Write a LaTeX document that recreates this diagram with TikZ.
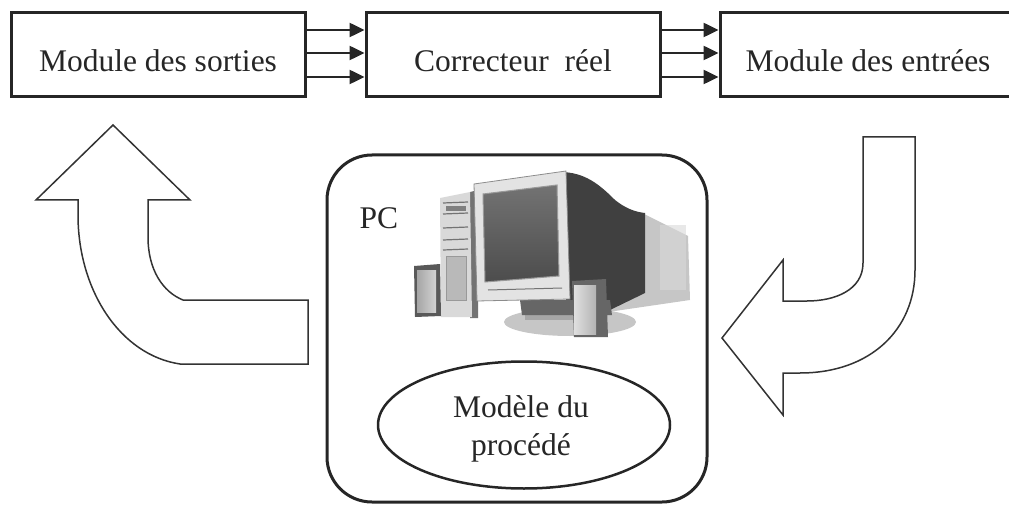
\documentclass[tikz,border=0pt]{standalone}
\usepackage{fontspec}
\setmainfont{Liberation Serif}
\usetikzlibrary{arrows.meta,shapes.geometric}

\begin{document}
\begin{tikzpicture}[x=1pt,y=-1pt,
  every node/.style={font=\fontsize{31.5}{38}\selectfont, text=black!85},
  blockbox/.style={draw=black!85, line width=3pt, rectangle, inner sep=0pt,
                   minimum width=294pt, minimum height=84pt},
  link/.style={draw=black!85, line width=2.5pt,
               -{Triangle[length=15pt,width=14pt]}},
  bigarrow/.style={draw=black!80, line width=1.5pt, line join=miter, fill=white},
  pcbox/.style={draw=black!85, line width=3pt, rounded corners=45pt,
                minimum width=380pt, minimum height=347pt, inner sep=0pt},
  modelshape/.style={draw=black!85, line width=2.5pt, ellipse, inner sep=0pt,
                     minimum width=292pt, minimum height=127pt}
]
\useasboundingbox (0,0) rectangle (1009,505);

% ---- top chain of blocks ----
\node[blockbox] (sorties) at (158,55) {};
\node[blockbox] (correcteur) at (513,55) {};
\node[blockbox, minimum width=296pt] (entrees) at (868,55) {};
\node[anchor=base] (tsorties) at (158,72) {Module des sorties};
\node[anchor=base] (tcorrecteur) at (513,72) {Correcteur\ \ réel};
\node[anchor=base] (tentrees) at (868,72) {Module des entrées};

\foreach \dy in {25,2,-22}{
  \draw[link] ([yshift=\dy pt]sorties.east) -- ([yshift=\dy pt]correcteur.west);
  \draw[link] ([yshift=\dy pt]correcteur.east) -- ([yshift=\dy pt]entrees.west);
}

% ---- PC frame and process model ----
\node[pcbox] (pc) at (517,328.5) {};
\node[anchor=base west] (pclabel) at (356,229) {PC};
\node[modelshape] (modele) at (524,425) {};
\node[align=center] (tmodele) at (521,429) {Modèle du\\procédé};

% ---- computer: back housing ----
\fill[gray!45] (640,212) -- (688,236) -- (690,300) -- (608,312) -- (608,250) -- cycle;
\fill[gray!30, opacity=0.6] (660,225) rectangle (686,290);
% dark monitor body
\fill[black!75] (560,172) .. controls (585,172) and (600,185) .. (615,200)
  .. controls (625,208) and (635,212) .. (645,213) -- (645,293) -- (610,310) -- (566,300) -- cycle;
% stand
\fill[gray!45] (570,322) ellipse [x radius=66, y radius=14];
\fill[gray!70] (525,312) rectangle (600,320);
\fill[black!60] (520,300) -- (610,300) -- (612,315) -- (522,315) -- cycle;
% tower
\fill[black!55] (470,192) -- (478,190) -- (478,318) -- (470,318) -- cycle;
\fill[gray!30] (440,198) -- (470,192) -- (472,317) -- (441,317) -- cycle;
\foreach \yy in {203,214,228,240,250}
  \draw[black!55, line width=1.2pt] (443,\yy) -- (468,\yy-1);
\fill[black!50] (446,206) rectangle (466,211);
\fill[gray!55] (446,256) rectangle (466,300);
\draw[black!40, line width=0.8pt] (446,256) rectangle (466,300);
% left speaker
\fill[black!65] (414,266) -- (440,264) -- (441,316) -- (415,317) -- cycle;
\shade[left color=gray!70, right color=gray!35] (417,270) rectangle (436,312);
% monitor bezel
\fill[gray!22] (474,184) -- (566,171) -- (570,299) -- (477,301) -- cycle;
\draw[black!45, line width=0.8pt] (474,184) -- (566,171) -- (570,299) -- (477,301) -- cycle;
% screen
\shade[top color=black!55, bottom color=black!70] (483,194) -- (557,185) -- (559,276) -- (485,282) -- cycle;
\draw[black!40, line width=1pt] (483,194) -- (557,185) -- (559,276) -- (485,282) -- cycle;
\draw[black!55, line width=1pt] (488,290) -- (562,288);
% right speaker
\fill[black!60] (572,281) -- (606,279) -- (608,337) -- (574,337) -- cycle;
\shade[left color=gray!25, right color=gray!60] (574,285) rectangle (596,334);

% ---- feedback arrows ----
\draw[bigarrow] (113,125) -- (190,200) -- (148,200) -- (148,237)
  .. controls (148,270) and (163,292) .. (183,300)
  -- (308,300) -- (308,364) -- (180,364)
  .. controls (120,355) and (78,290) .. (78,215)
  -- (78,200) -- (36,200) -- cycle;
\draw[bigarrow] (863,137) -- (915,137) -- (915,270)
  .. controls (915,330) and (870,373) .. (800,373)
  -- (783,373) -- (783,415) -- (722,338) -- (783,260) -- (783,301)
  -- (807,301) .. controls (835,301) and (863,290) .. (863,263) -- cycle;
\end{tikzpicture}
\end{document}
